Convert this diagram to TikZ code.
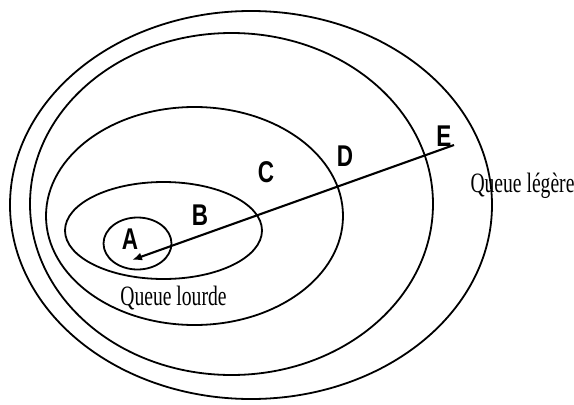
\documentclass[tikz,border=0pt]{standalone}
\usepackage{fontspec}
\setmainfont{Liberation Serif}
\newfontfamily\letterfont{Liberation Sans}
\usetikzlibrary{arrows.meta,positioning}

\begin{document}
\begin{tikzpicture}[x=1pt,y=-1pt,
    ring/.style={draw,line width=1.8pt},
    axis/.style={draw,line width=2.1pt},
    letter/.style={font=\letterfont\bfseries\fontsize{30}{30}\selectfont,xscale=0.75,inner sep=0pt},
    tail/.style={font=\fontsize{28}{28}\selectfont,xscale=0.7,inner sep=0pt,anchor=base}]
  \useasboundingbox (0,0) rectangle (574,405);

  % nested rings, outermost first
  \draw[ring] (251,205) ellipse [x radius=241,y radius=194];
  \draw[ring] (231.5,204) ellipse [x radius=201.5,y radius=171];
  \draw[ring] (194.5,216) ellipse [x radius=148.5,y radius=109];
  \draw[ring] (163.5,230.5) ellipse [x radius=98.5,y radius=48.5];
  \draw[ring] (137.5,243.5) ellipse [x radius=34,y radius=26];

  % axis from A out to E
  \coordinate (start) at (132,260);
  \coordinate (end) at (454,145);
  \draw[axis,{Latex[length=10pt,width=8pt]}-] (start) -- (end);

  \node[letter] (A) at (130,239) {A};
  \node[letter] (B) at (200,215) {B};
  \node[letter] (C) at (266,172) {C};
  \node[letter] (D) at (345,156) {D};
  \node[letter] (E) at (444,136) {E};

  \node[tail] (lourde) at (173.5,305) {Queue lourde};
  \node[tail] (legere) at (522.5,192) {Queue légère};
\end{tikzpicture}
\end{document}
